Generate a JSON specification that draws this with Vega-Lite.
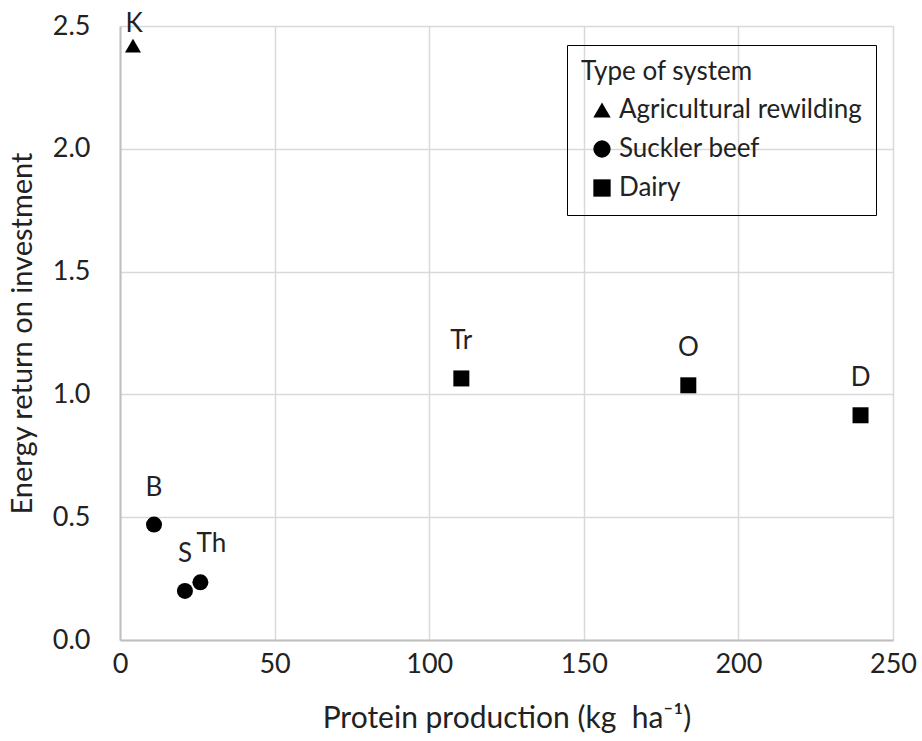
{
  "$schema": "https://vega.github.io/schema/vega-lite/v6.json",
  "width": 773,
  "height": 614,
  "autosize": {"type": "none"},
  "padding": {"left": 120, "top": 26, "right": 29, "bottom": 101},
  "background": "white",
  "config": {
    "font": "Lato",
    "view": {"stroke": null},
    "axis": {
      "gridColor": "#d9d9d9",
      "gridWidth": 1.5,
      "domainColor": "#bfbfbf",
      "domainWidth": 2,
      "ticks": false,
      "labelFlush": false,
      "labelFont": "Lato",
      "labelFontSize": 27,
      "labelColor": "#222222",
      "titleFont": "Lato",
      "titleFontSize": 30,
      "titleFontWeight": "normal",
      "titleColor": "#222222"
    }
  },
  "data": {
    "values": [
      {"site": "K", "system": "Agricultural rewilding", "protein": 4.2, "eroi": 2.42},
      {"site": "B", "system": "Suckler beef", "protein": 11, "eroi": 0.47},
      {"site": "S", "system": "Suckler beef", "protein": 21, "eroi": 0.20},
      {"site": "Th", "system": "Suckler beef", "protein": 26, "eroi": 0.235},
      {"site": "Tr", "system": "Dairy", "protein": 110.4, "eroi": 1.065},
      {"site": "O", "system": "Dairy", "protein": 183.8, "eroi": 1.037},
      {"site": "D", "system": "Dairy", "protein": 239.5, "eroi": 0.915}
    ]
  },
  "encoding": {
    "x": {
      "field": "protein", "type": "quantitative",
      "scale": {"domain": [0, 250], "nice": false},
      "axis": {"values": [0, 50, 100, 150, 200, 250], "labelPadding": 11, "title": "Protein production (kg\u00a0 ha⁻¹)", "titlePadding": 26}
    },
    "y": {
      "field": "eroi", "type": "quantitative",
      "scale": {"domain": [0, 2.5], "nice": false},
      "axis": {"values": [0, 0.5, 1, 1.5, 2, 2.5], "format": ".1f", "labelPadding": 30, "title": "Energy return on investment", "titleFontSize": 29, "titlePadding": 15}
    }
  },
  "layer": [
    {
      "mark": {"type": "point", "filled": true, "opacity": 1, "color": "black"},
      "encoding": {
        "shape": {
          "field": "system", "type": "nominal",
          "scale": {"domain": ["Agricultural rewilding", "Suckler beef", "Dairy"], "range": ["triangle-up", "circle", "square"]},
          "legend": {
            "title": "Type of system",
            "orient": "none",
            "legendX": 447,
            "legendY": 19,
            "strokeColor": "black",
            "padding": 14,
            "titleFontSize": 26,
            "titleFontWeight": "normal",
            "titleColor": "#222222",
            "titlePadding": 12,
            "labelFontSize": 26,
            "labelLimit": 400,
            "labelColor": "#222222",
            "symbolFillColor": "black",
            "symbolStrokeColor": "black",
            "symbolSize": 300,
            "rowPadding": 13,
            "labelOffset": 4,
            "symbolOffset": 8
          }
        },
        "size": {"value": 256}
      }
    },
    {
      "transform": [{"filter": "datum.site !== 'K' && datum.site !== 'Th'"}],
      "mark": {"type": "text", "dy": -37, "fontSize": 26, "color": "#222222", "font": "Lato"},
      "encoding": {"text": {"field": "site"}}
    },
    {
      "transform": [{"filter": "datum.site === 'K'"}],
      "mark": {"type": "text", "dy": -22, "dx": 1, "fontSize": 26, "color": "#222222", "font": "Lato"},
      "encoding": {"text": {"field": "site"}}
    },
    {
      "transform": [{"filter": "datum.site === 'Th'"}],
      "mark": {"type": "text", "dy": -38, "dx": 11, "fontSize": 26, "color": "#222222", "font": "Lato"},
      "encoding": {"text": {"field": "site"}}
    }
  ]
}
